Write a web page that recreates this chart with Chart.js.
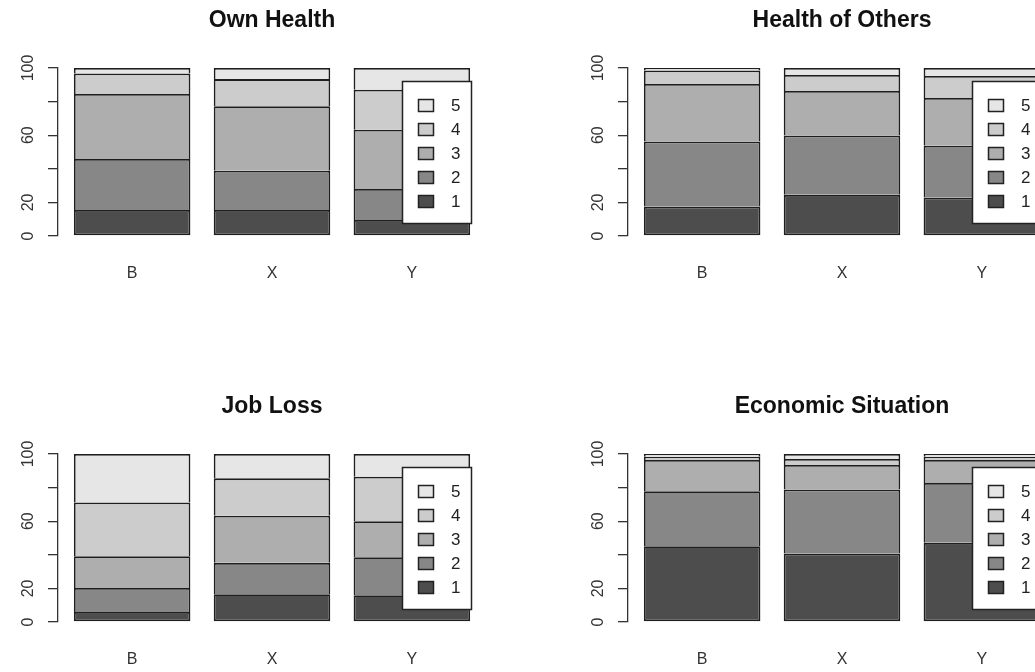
<!DOCTYPE html>
<html><head><meta charset="utf-8">
<script src="https://cdn.jsdelivr.net/npm/chart.js@4.4.1/dist/chart.umd.min.js"></script>
<style>
html,body{margin:0;padding:0;background:#fff;}
#wrap{position:relative;width:1035px;height:672px;overflow:hidden;background:#fff;}
canvas{position:absolute;}
</style></head><body>
<div id="wrap">
<canvas id="c0" width="544" height="300" style="left:0px;top:0px"></canvas>
<canvas id="c1" width="544" height="300" style="left:570px;top:0px"></canvas>
<canvas id="c2" width="544" height="300" style="left:0px;top:386px"></canvas>
<canvas id="c3" width="544" height="300" style="left:570px;top:386px"></canvas>
</div>
<script>
// ---- data ----
const categories = ['B', 'X', 'Y'];
const levels = ['1', '2', '3', '4', '5'];
const levelColors = ['#4D4D4D', '#878787', '#AEAEAE', '#CCCCCC', '#E6E6E6'];
const yTicks = [0, 20, 40, 60, 80, 100];
const yTickLabels = ['0', '20', '', '60', '', '100'];
const titles = ['Own Health', 'Health of Others', 'Job Loss', 'Economic Situation'];
// rows = response level 1..5, columns = B, X, Y (percent)
const ownHealth    = [[15.5, 15.5, 9.5], [30.4, 23.3, 18.5], [38.6, 38.5, 35.2], [12.3, 16.1, 23.9], [3.2, 6.6, 12.9]];
const healthOthers = [[17.5, 24.5, 22.9], [38.8, 35.3, 30.8], [34.2, 26.5, 28.4], [8.0, 9.5, 13.1], [1.5, 4.2, 4.8]];
const jobLoss      = [[6.0, 16.5, 15.9], [14.3, 18.7, 22.7], [18.9, 28.0, 21.4], [32.0, 22.3, 26.5], [28.8, 14.5, 13.5]];
const economic     = [[45.1, 40.8, 47.1], [32.8, 38.1, 35.6], [18.5, 14.6, 13.7], [2.0, 3.5, 2.0], [1.6, 3.0, 1.6]];
const panels = [ownHealth, healthOthers, jobLoss, economic];

// ---- barplot geometry (R style: width 1, space 0.2) ----
const space = 0.2;
const barCenters = categories.map((c, i) => space + 0.5 + i * (1 + space));
const xLo = space, xHi = categories.length * (1 + space);
const xPad = 0.04 * (xHi - xLo);

Chart.defaults.font.family = '"Liberation Sans", Arial, Helvetica, sans-serif';
Chart.defaults.color = '#333';

const rLegend = {
  id: 'rLegend',
  afterDatasetsDraw(chart) {
    const ctx = chart.ctx, a = chart.chartArea;
    const w = 69, h = 142;
    const x0 = Math.round(a.right - 15 - w), y0 = Math.round(a.top + 13);
    ctx.save();
    ctx.fillStyle = '#fff';
    ctx.fillRect(x0, y0, w, h);
    ctx.strokeStyle = '#222';
    ctx.lineWidth = 1.5;
    ctx.strokeRect(x0 + 0.5, y0 + 0.5, w, h);
    ctx.font = '17px "Liberation Sans", Arial, sans-serif';
    ctx.textBaseline = 'middle';
    ctx.textAlign = 'left';
    const ds = chart.data.datasets;
    for (let k = 0; k < ds.length; k++) {
      const d = ds[ds.length - 1 - k];
      const cy = y0 + 24 + k * 24;
      ctx.fillStyle = d.backgroundColor;
      ctx.fillRect(x0 + 16, cy - 6, 16, 13);
      ctx.strokeRect(x0 + 16.5, cy - 5.5, 15, 12);
      ctx.fillStyle = '#222';
      ctx.fillText(d.label, x0 + 49, cy + 1);
    }
    ctx.restore();
  }
};

panels.forEach((rows, p) => {
  new Chart(document.getElementById('c' + p), {
    type: 'bar',
    data: {
      datasets: rows.map((vals, k) => ({
        label: levels[k],
        data: vals.map((v, i) => ({ x: barCenters[i], y: v })),
        backgroundColor: levelColors[k],
        borderColor: '#1e1e1e',
        borderWidth: 1.8,
        borderSkipped: k === 0 ? false : 'start',
        categoryPercentage: 1 / (1 + space),
        barPercentage: 1
      }))
    },
    options: {
      responsive: false,
      animation: false,
      layout: { padding: 0 },
      plugins: {
        legend: { display: false },
        tooltip: { enabled: false },
        title: {
          display: true, text: titles[p], color: '#111',
          font: { size: 23, weight: 'bold' },
          padding: { top: 7, bottom: 33.4 }
        }
      },
      scales: {
        x: {
          type: 'linear', min: xLo - xPad, max: xHi + xPad, stacked: true, offset: false,
          grid: { display: false, drawTicks: false, offset: false },
          border: { display: false },
          afterBuildTicks: s => { s.ticks = barCenters.map(v => ({ value: v })); },
          ticks: { autoSkip: false, minRotation: 0, maxRotation: 0, padding: 28, color: '#333',
                   font: { size: 16 }, callback: (v, i) => categories[i] },
          afterFit: s => { s.height = 64; }
        },
        y: {
          type: 'linear', min: 0, max: 100, stacked: true,
          afterBuildTicks: s => { s.ticks = yTicks.map(v => ({ value: v })); },
          grid: { display: true, drawOnChartArea: false, drawTicks: true, tickLength: 10, color: '#333', lineWidth: 1.3 },
          border: { display: true, color: '#333', width: 1.3 },
          ticks: { minRotation: 90, maxRotation: 90, crossAlign: 'center', padding: 6, color: '#333',
                   font: { size: 16 }, callback: (v, i) => yTickLabels[i] },
          afterFit: s => { s.width = 58; }
        },
        yRight: {
          type: 'linear', position: 'right', display: true,
          grid: { display: false, drawTicks: false },
          border: { display: false },
          ticks: { display: false },
          afterFit: s => { s.width = 58; }
        }
      }
    },
    plugins: [rLegend]
  });
});
</script>
</body></html>
